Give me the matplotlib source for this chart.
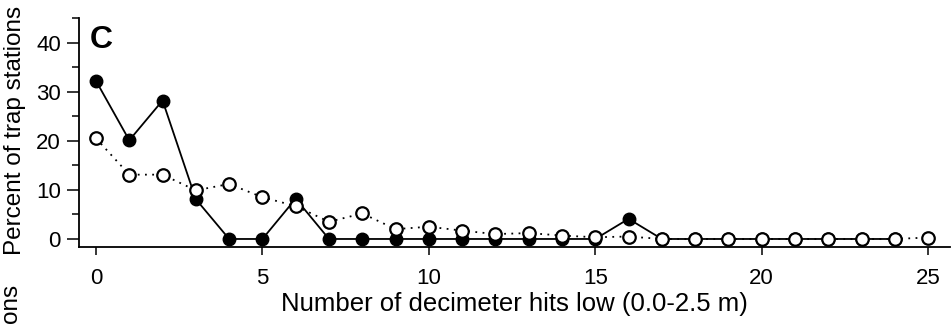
import matplotlib
matplotlib.use("Agg")
import matplotlib.pyplot as plt
from matplotlib.ticker import MultipleLocator

plt.rcParams['font.family'] = ['Liberation Sans', 'DejaVu Sans']

# number of decimeter hits
hits_filled = list(range(0, 25))
pct_filled = [32.2, 20.1, 28.2, 8.1, 0, 0, 8.2, 0, 0, 0, 0, 0, 0, 0, 0, 0, 4.1,
              0, 0, 0, 0, 0, 0, 0, 0]
hits_open = list(range(0, 26))
pct_open = [20.5, 13.1, 13.1, 9.9, 11.2, 8.5, 6.7, 3.5, 5.2, 2.0, 2.5, 1.7, 1.0,
            1.2, 0.7, 0.35, 0.5, 0, 0, 0, 0, 0, 0, 0, 0, 0.3]

fig = plt.figure(figsize=(9.52, 3.24), dpi=100)
ax = fig.add_axes([0.083, 0.2377, 0.915, 0.7067])

ax.plot(hits_filled, pct_filled, color='black', linestyle='-', linewidth=1.3,
        marker='o', markersize=9, markerfacecolor='black', markeredgecolor='black',
        zorder=3)
ax.plot(hits_open, pct_open, color='black', linestyle=(0, (1, 3)), linewidth=1.3,
        marker='o', markersize=9, markerfacecolor='white', markeredgecolor='black',
        markeredgewidth=1.6, zorder=4)

ax.set_xlim(-0.51, 25.66)
ax.set_ylim(-1.63, 45)
ax.spines['top'].set_visible(False)
ax.spines['right'].set_visible(False)
for s in ['left', 'bottom']:
    ax.spines[s].set_linewidth(1.3)

ax.set_xticks([0, 5, 10, 15, 20, 25])
ax.set_yticks([0, 10, 20, 30, 40])
ax.yaxis.set_minor_locator(MultipleLocator(5))
ax.tick_params(axis='x', length=6, width=1.1, labelsize=16, pad=9)
ax.tick_params(axis='y', which='major', length=9, width=1.1, labelsize=16, pad=4)
ax.tick_params(axis='y', which='minor', length=5, width=1.1)

ax.set_xlabel('Number of decimeter hits low (0.0-2.5 m)', fontsize=18.5, labelpad=2)
fig.text(15 / 952, 1 - 130 / 324, 'Percent of trap stations', rotation=90,
         fontsize=17.5, ha='center', va='center')
# label of the panel below, cut off by the figure edge as in the reference
fig.text(12 / 952, (324 - 285) / 324, 'Percent of trap stations', rotation=90,
         fontsize=17.5, ha='center', va='top')

ax.text(0.0126, 0.97, 'C', transform=ax.transAxes, fontsize=23, fontweight='bold',
        ha='left', va='top')

fig.savefig('out.png', dpi=100)
